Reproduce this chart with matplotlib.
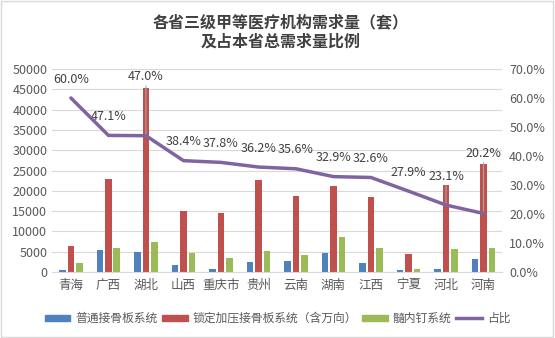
import numpy as np
import matplotlib
matplotlib.use('Agg')
import matplotlib.pyplot as plt
from matplotlib.patches import Rectangle, Patch
from matplotlib.lines import Line2D
from matplotlib.ticker import FuncFormatter

plt.rcParams['font.family'] = ['Noto Sans CJK SC', 'DejaVu Sans']

# data
provinces = ['青海', '广西', '湖北', '山西', '重庆市', '贵州', '云南', '湖南', '江西', '宁夏', '河北', '河南']
plain_plate = [500, 5400, 4900, 1700, 800, 2500, 2700, 4700, 2300, 500, 800, 3200]
locking_plate = [6400, 22800, 45300, 15000, 14500, 22600, 18700, 21100, 18400, 4500, 21400, 26500]
nail = [2200, 5900, 7400, 4600, 3500, 5200, 4200, 8600, 5900, 800, 5700, 5900]
share = [60.0, 47.1, 47.0, 38.4, 37.8, 36.2, 35.6, 32.9, 32.6, 27.9, 23.1, 20.2]
# label offsets in pixels (labels were dragged in the original)
label_dy = [18, 19, 59, 19, 19, 19, 19, 19, 19, 19, 29, 60]

c_blue = '#4F81BD'
c_red = '#C0504D'
c_green = '#9BBB59'
c_purple = '#8064A2'
txt = '#595959'

fig = plt.figure(figsize=(5.55, 3.38), dpi=100)
ax = fig.add_axes([0.094, 0.195, 0.811, 0.601])
ax2 = ax.twinx()

x = np.arange(len(provinces))
w = 0.18
ax.bar(x - 0.225, plain_plate, w, color=c_blue, zorder=2)
ax.bar(x, locking_plate, w, color=c_red, zorder=2)
ax.bar(x + 0.225, nail, w, color=c_green, zorder=2)

ax.set_xlim(-0.5, len(provinces) - 0.5)
ax.set_ylim(0, 50000)
ax.set_yticks(np.arange(0, 50001, 5000))
ax.grid(axis='y', color='#D9D9D9', lw=0.8, zorder=0)
ax.set_axisbelow(True)
ax.set_xticks(x)
ax.set_xticklabels(provinces)
for s in ['top', 'right', 'left']:
    ax.spines[s].set_visible(False)
ax.spines['bottom'].set_color('#D9D9D9')
ax.tick_params(axis='both', length=0, colors=txt, labelsize=9)
ax.tick_params(axis='x', pad=5)

ax2.plot(x, share, color=c_purple, lw=2.5, zorder=5, solid_capstyle='round')
ax2.set_ylim(0, 70)
ax2.set_yticks(np.arange(0, 71, 10))
ax2.yaxis.set_major_formatter(FuncFormatter(lambda v, p: f'{v:.1f}%'))
ax2.tick_params(axis='y', length=0, colors=txt, labelsize=9, pad=5)
for s in ax2.spines.values():
    s.set_visible(False)

for i, v in enumerate(share):
    props = None
    if label_dy[i] > 25:
        props = dict(arrowstyle='-', color='#A6A6A6', lw=0.8, shrinkA=0, shrinkB=0)
    ax2.annotate(f'{v:.1f}%', (x[i], v), xytext=(0, label_dy[i]), textcoords='offset pixels',
                 ha='center', va='center', fontsize=9, color='#404040', arrowprops=props)

fig.text(0.505, 0.905, '各省三级甲等医疗机构需求量（套）\n及占本省总需求量比例', ha='center', va='center',
         fontsize=11.5, fontweight='bold', color='#404040', linespacing=1.25)

handles = [Patch(color=c_blue), Patch(color=c_red), Patch(color=c_green),
           Line2D([], [], color=c_purple, lw=2.5)]
names = ['普通接骨板系统', '锁定加压接骨板系统（含万向）', '髓内钉系统', '占比']
fig.legend(handles, names, loc='center', bbox_to_anchor=(0.5, 0.058), ncol=4, frameon=False,
           fontsize=8.5, handlelength=2.2, handleheight=0.45, handletextpad=0.4,
           columnspacing=0.4, labelcolor=txt)

fig.patches.append(Rectangle((0.002, 0.003), 0.995, 0.993, transform=fig.transFigure,
                             fill=False, edgecolor='#D9D9D9', lw=1))

fig.savefig('out.png', dpi=100)
